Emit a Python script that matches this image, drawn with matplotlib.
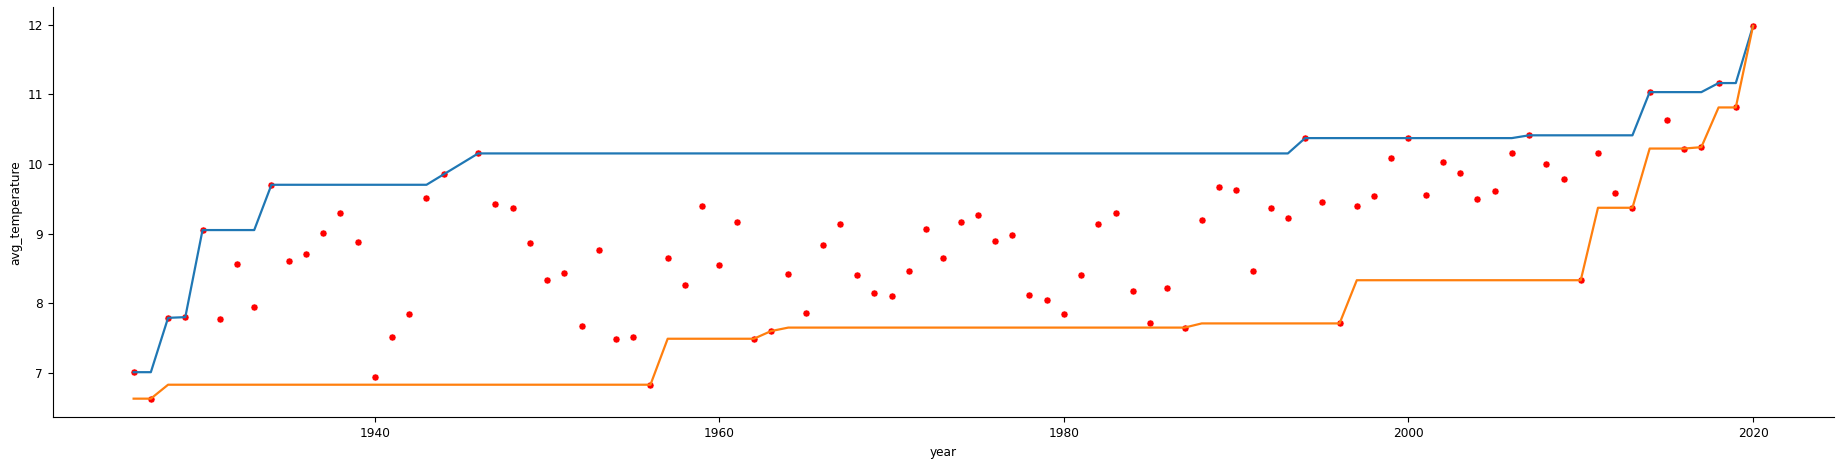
import pandas as pd
import matplotlib
matplotlib.use("Agg")
import matplotlib.pyplot as plt

# Rata-rata suhu tahunan (1945 tidak ada datanya)
years = [1926, 1927, 1928, 1929, 1930, 1931, 1932, 1933, 1934, 1935,
         1936, 1937, 1938, 1939, 1940, 1941, 1942, 1943, 1944, 1946,
         1947, 1948, 1949, 1950, 1951, 1952, 1953, 1954, 1955, 1956,
         1957, 1958, 1959, 1960, 1961, 1962, 1963, 1964, 1965, 1966,
         1967, 1968, 1969, 1970, 1971, 1972, 1973, 1974, 1975, 1976,
         1977, 1978, 1979, 1980, 1981, 1982, 1983, 1984, 1985, 1986,
         1987, 1988, 1989, 1990, 1991, 1992, 1993, 1994, 1995, 1996,
         1997, 1998, 1999, 2000, 2001, 2002, 2003, 2004, 2005, 2006,
         2007, 2008, 2009, 2010, 2011, 2012, 2013, 2014, 2015, 2016,
         2017, 2018, 2019, 2020]
avg_temperature = [7.01, 6.63, 7.79, 7.80, 9.05, 7.78, 8.57, 7.95, 9.70, 8.61,
                   8.70, 9.01, 9.29, 8.88, 6.94, 7.51, 7.84, 9.51, 9.85, 10.15,
                   9.43, 9.36, 8.86, 8.33, 8.44, 7.68, 8.77, 7.49, 7.51, 6.83,
                   8.65, 8.26, 9.40, 8.55, 9.16, 7.49, 7.60, 8.42, 7.86, 8.83,
                   9.14, 8.41, 8.15, 8.10, 8.46, 9.07, 8.65, 9.16, 9.27, 8.90,
                   8.98, 8.12, 8.04, 7.84, 8.41, 9.14, 9.29, 8.17, 7.71, 8.22,
                   7.65, 9.20, 9.67, 9.63, 8.46, 9.36, 9.23, 10.37, 9.45, 7.71,
                   9.39, 9.54, 10.09, 10.37, 9.56, 10.02, 9.87, 9.49, 9.61, 10.16,
                   10.41, 10.00, 9.78, 8.33, 10.16, 9.58, 9.37, 11.03, 10.63, 10.22,
                   10.24, 11.16, 10.81, 11.98]

df = pd.DataFrame({"year": years, "avg_temperature": avg_temperature})
# maksimum berjalan dan minimum dari belakang
df["running_max"] = df["avg_temperature"].cummax()
df["future_min"] = df["avg_temperature"][::-1].cummin()[::-1]

fig = plt.figure(figsize=(18.41, 4.65), dpi=100)
ax = fig.add_axes([0.0286, 0.1026, 0.9676, 0.8817])

ax.scatter(df["year"], df["avg_temperature"], color="red", s=26,
           edgecolor="white", linewidth=0.4)
ax.plot(df["year"], df["running_max"], color="#1f77b4", lw=1.6)
ax.plot(df["year"], df["future_min"], color="#ff7f0e", lw=1.6)

ax.set_xlabel("year", fontsize=8.7)
ax.set_ylabel("avg_temperature", fontsize=8.7)
ax.tick_params(labelsize=8.7)
ax.spines["top"].set_visible(False)
ax.spines["right"].set_visible(False)

fig.savefig("out.png", dpi=100)
